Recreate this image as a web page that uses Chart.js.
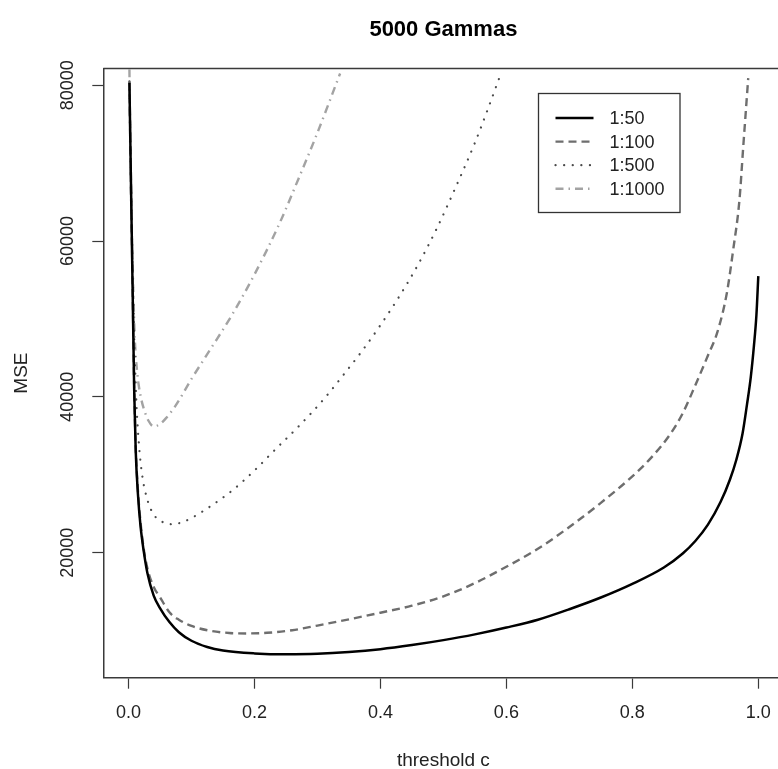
<!DOCTYPE html>
<html>
<head>
<meta charset="utf-8">
<title>5000 Gammas</title>
<script src="https://cdn.jsdelivr.net/npm/chart.js@4.4.1/dist/chart.umd.min.js"></script>
<style>
  html, body { margin: 0; padding: 0; background: #fff; overflow: hidden; }
  #wrap { width: 790px; height: 769px; }
</style>
</head>
<body>
<div id="wrap"><canvas id="mse_chart" width="790" height="769"></canvas></div>
<script>
// values: threshold c vs MSE
var seriesNames = ['1:50', '1:100', '1:500', '1:1000'];

var c50 = [0.0015, 0.004, 0.0065, 0.009, 0.0115, 0.015, 0.019, 0.024, 0.03, 0.04, 0.05, 0.065, 0.08, 0.1, 0.125, 0.15, 0.2, 0.25, 0.3, 0.35, 0.4, 0.45, 0.5, 0.55, 0.6, 0.65, 0.7, 0.75, 0.8, 0.85, 0.88, 0.9, 0.92, 0.94, 0.955, 0.965, 0.975, 0.982, 0.988, 0.993, 0.997, 1.0];
var mse50 = [80300, 67000, 54000, 41000, 33000, 27500, 23500, 20300, 17400, 14500, 12900, 11100, 9800, 8700, 7900, 7450, 7080, 6960, 7020, 7250, 7620, 8150, 8780, 9520, 10400, 11400, 12750, 14250, 16000, 18100, 19900, 21500, 23600, 26500, 29400, 31900, 35300, 39000, 42500, 46500, 50500, 55500];

var c100 = [0.0015, 0.004, 0.0065, 0.009, 0.0115, 0.015, 0.019, 0.024, 0.03, 0.04, 0.05, 0.065, 0.08, 0.1, 0.13, 0.16, 0.19, 0.22, 0.26, 0.3, 0.35, 0.4, 0.45, 0.5, 0.55, 0.6, 0.65, 0.7, 0.75, 0.8, 0.83, 0.86, 0.88, 0.9, 0.92, 0.935, 0.95, 0.96, 0.97, 0.976, 0.984];
var mse100 = [80500, 67500, 54500, 41500, 33500, 28000, 24000, 20600, 18000, 15600, 14300, 12350, 11400, 10600, 9980, 9700, 9640, 9720, 10050, 10650, 11450, 12300, 13200, 14400, 16100, 18200, 20500, 23300, 26400, 29800, 32200, 35200, 37900, 41500, 45300, 48300, 53300, 58800, 65200, 72000, 80900];

var c500 = [0.0015, 0.004, 0.007, 0.01, 0.013, 0.017, 0.022, 0.03, 0.04, 0.055, 0.07, 0.085, 0.1, 0.13, 0.165, 0.2, 0.235, 0.27, 0.31, 0.345, 0.37, 0.4, 0.43, 0.46, 0.49, 0.52, 0.55, 0.57, 0.589];
var mse500 = [80500, 68000, 55000, 45000, 38500, 33500, 29800, 26800, 24900, 23900, 23650, 23900, 24450, 25950, 28000, 30550, 33400, 36200, 39700, 43200, 45800, 49200, 52900, 57000, 61700, 67000, 72600, 76800, 81000];

var c1000 = [0.0015, 0.003, 0.005, 0.0075, 0.01, 0.014, 0.019, 0.025, 0.032, 0.04, 0.05, 0.06, 0.075, 0.1, 0.13, 0.165, 0.2, 0.24, 0.27, 0.3, 0.336];
var mse1000 = [82000, 70000, 62000, 54000, 47500, 43000, 40200, 38300, 36900, 36200, 36500, 37300, 38900, 42300, 46100, 50600, 55700, 62300, 68000, 73900, 81500];

var xTicks = [0, 0.2, 0.4, 0.6, 0.8, 1.0];
var yTicks = [20000, 40000, 60000, 80000];

function pts(xs, ys) {
  var out = [];
  for (var i = 0; i < xs.length; i++) {
    out.push({x: xs[i], y: ys[i]});
  }
  return out;
}

var fontFam = "'Liberation Sans', Arial, sans-serif";
var axisCol = '#3a3a3a';
Chart.defaults.font.family = fontFam;
Chart.defaults.color = '#222';

// box top/right, rotated y tick labels, legend
var rPlot = {
  id: 'rPlot',
  afterDraw: function(chart) {
    var ctx = chart.ctx;
    var a = chart.chartArea;
    var ys = chart.scales.y;

    ctx.save();
    ctx.strokeStyle = axisCol;
    ctx.lineWidth = 1.5;
    ctx.beginPath();
    ctx.moveTo(a.left, a.top);
    ctx.lineTo(a.right, a.top);
    ctx.lineTo(a.right, a.bottom);
    ctx.stroke();

    // y tick labels, reading upward like R
    ctx.fillStyle = '#222';
    ctx.font = '18px ' + fontFam;
    ctx.textAlign = 'center';
    ctx.textBaseline = 'middle';
    ys.ticks.forEach(function(t) {
      var py = ys.getPixelForValue(t.value);
      ctx.save();
      ctx.translate(a.left - 35, py);
      ctx.rotate(-Math.PI / 2);
      ctx.fillText(String(t.value), 0, 0);
      ctx.restore();
    });

    // legend
    var bx = 538.5, by = 93.5, bw = 141.5, bh = 119;
    ctx.fillStyle = '#fff';
    ctx.fillRect(bx, by, bw, bh);
    ctx.strokeStyle = '#333';
    ctx.lineWidth = 1.3;
    ctx.strokeRect(bx, by, bw, bh);
    ctx.font = '18px ' + fontFam;
    ctx.textAlign = 'left';
    chart.data.datasets.forEach(function(ds, i) {
      var ry = by + 24.5 + i * 23.6;
      ctx.save();
      ctx.strokeStyle = ds.borderColor;
      ctx.lineWidth = ds.borderWidth;
      ctx.lineCap = ds.borderCapStyle || 'butt';
      ctx.setLineDash(ds.borderDash || []);
      ctx.beginPath();
      ctx.moveTo(bx + 17, ry);
      ctx.lineTo(bx + 55, ry);
      ctx.stroke();
      ctx.restore();
      ctx.fillStyle = '#222';
      ctx.fillText(ds.label, bx + 71, ry + 1);
    });
    ctx.restore();
  }
};

var ctx = document.getElementById('mse_chart');
var myChart = new Chart(ctx, {
  type: 'line',
  plugins: [rPlot],
  data: {
    datasets: [
      {
        label: seriesNames[0],
        data: pts(c50, mse50),
        borderColor: '#000',
        borderWidth: 2.5,
        pointRadius: 0,
        cubicInterpolationMode: 'monotone'
      },
      {
        label: seriesNames[1],
        data: pts(c100, mse100),
        borderColor: '#6e6e6e',
        borderWidth: 2.4,
        borderDash: [8, 5],
        pointRadius: 0,
        cubicInterpolationMode: 'monotone'
      },
      {
        label: seriesNames[2],
        data: pts(c500, mse500),
        borderColor: '#4a4a4a',
        borderWidth: 2.2,
        borderDash: [0.1, 8.5],
        borderCapStyle: 'round',
        pointRadius: 0,
        cubicInterpolationMode: 'monotone'
      },
      {
        label: seriesNames[3],
        data: pts(c1000, mse1000),
        borderColor: '#a3a3a3',
        borderWidth: 2.4,
        borderDash: [8, 5, 1.5, 5],
        pointRadius: 0,
        cubicInterpolationMode: 'monotone'
      }
    ]
  },
  options: {
    responsive: false,
    animation: false,
    layout: { padding: { left: 0, right: 6.5, top: 0, bottom: 0 } },
    plugins: {
      legend: { display: false },
      tooltip: { enabled: false },
      title: {
        display: true,
        fullSize: false,
        text: '5000 Gammas',
        color: '#000',
        font: { size: 22, weight: 'bold' },
        padding: { top: 17, bottom: 25 }
      }
    },
    scales: {
      x: {
        type: 'linear',
        min: -0.04,
        max: 1.04,
        afterFit: function(scale) { scale.height = 91.3; },
        afterBuildTicks: function(scale) {
          scale.ticks = xTicks.map(function(v) { return {value: v}; });
        },
        ticks: {
          padding: 13.5,
          font: { size: 18 },
          color: '#222',
          maxRotation: 0,
          callback: function(v) { return Number(v).toFixed(1); }
        },
        grid: { drawOnChartArea: false, tickLength: 11, color: axisCol, tickWidth: 1.2 },
        border: { display: true, color: axisCol, width: 1.5 },
        title: {
          display: true,
          text: 'threshold c',
          color: '#222',
          font: { size: 19, lineHeight: 0.9 },
          padding: { top: 0, bottom: 0 }
        }
      },
      y: {
        type: 'linear',
        min: 3960,
        max: 82150,
        afterFit: function(scale) { scale.width = 103.3; },
        afterBuildTicks: function(scale) {
          scale.ticks = yTicks.map(function(v) { return {value: v}; });
        },
        ticks: { display: false },
        grid: { drawOnChartArea: false, tickLength: 11, color: axisCol, tickWidth: 1.2 },
        border: { display: true, color: axisCol, width: 1.5 },
        title: {
          display: true,
          text: 'MSE',
          color: '#222',
          font: { size: 19 },
          padding: { top: 10.6, bottom: 0 }
        }
      }
    }
  }
});
</script>
</body>
</html>
